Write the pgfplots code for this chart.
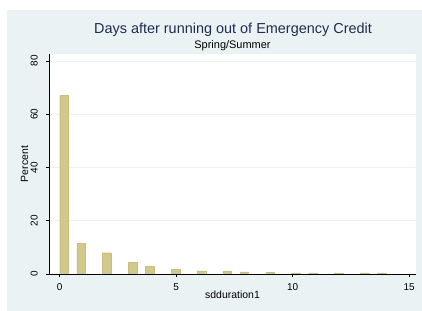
\documentclass[border=0pt]{standalone}
\usepackage{pgfplots}
\pgfplotsset{compat=1.18}
\usepackage{fontspec}
\setmainfont{Liberation Sans}
\definecolor{stbg}{RGB}{234,242,243}
\definecolor{stbar}{RGB}{210,200,140}
\definecolor{stbarline}{RGB}{200,190,128}
\definecolor{sttitle}{RGB}{30,45,80}
\begin{document}
\begin{tikzpicture}[x=1bp,y=1bp]
\path[fill=white] (0,0) rectangle (422,311);
\path[fill=stbg] (7,0) rectangle (422,301);
\node[font=\fontsize{14.5}{16}\selectfont, text=sttitle] at (233,281) {Days after running out of Emergency Credit};
\node[font=\fontsize{11}{12}\selectfont] at (232.5,265) {Spring/Summer};
\node[font=\fontsize{10.5}{12}\selectfont, rotate=90] at (24.5,147) {Percent};
\node[font=\fontsize{10.5}{12}\selectfont] at (232.5,16.5) {sdduration1};
\begin{axis}[
  at={(49bp,37bp)}, anchor=south west,
  scale only axis, width=367bp, height=220bp,
  xmin=-0.46, xmax=15.29, ymin=0, ymax=82.6,
  axis background/.style={fill=white},
  axis x line=bottom, axis y line=left,
  axis line style={-, black, line width=0.6pt},
  xtick={0,5,10,15}, ytick={0,20,40,60,80},
  tick align=outside, major tick length=3bp,
  tick style={black, line width=0.6pt},
  ymajorgrids, grid style={stbg, line width=0.6pt},
  /pgf/number format/assume math mode=true,
  ticklabel style={font=\fontsize{10}{12}\selectfont},
  xticklabel style={yshift=-3bp},
  yticklabel style={rotate=90, anchor=south},
  yticklabel shift=4.7bp,
  ybar, bar width=0.368, bar shift=0,
]
\addplot[fill=stbar, draw=stbarline, line width=0.3pt] coordinates {
(0.1842,67.1) (0.9211,11.6) (2.0263,8.0) (3.1316,4.3) (3.8684,3.0)
(4.9737,1.7) (6.0789,1.2) (7.1842,1.2) (7.9211,0.8) (9.0263,0.7)
(10.1316,0.4) (10.8684,0.4) (11.9737,0.4) (13.0789,0.4) (13.8158,0.4)
};
\end{axis}
\end{tikzpicture}
\end{document}
